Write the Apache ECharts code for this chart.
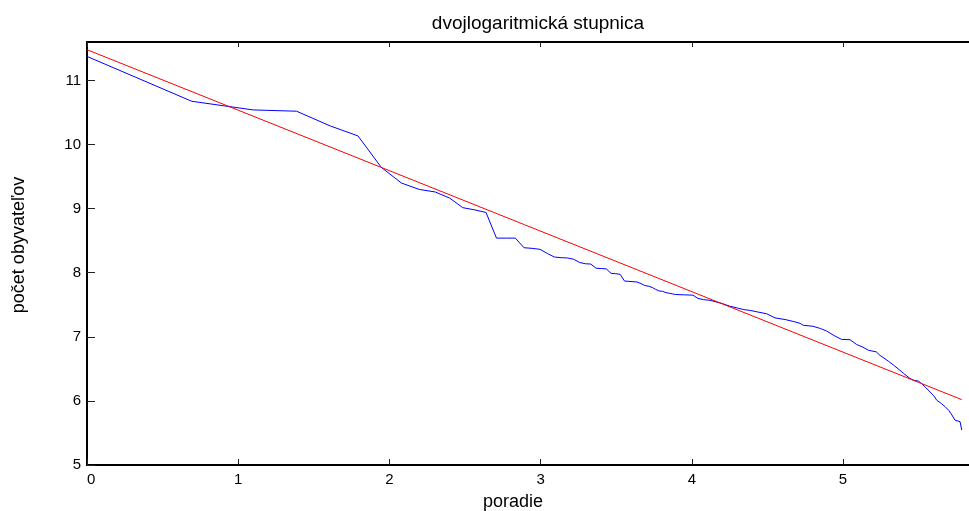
<!DOCTYPE html>
<html>
<head>
<meta charset="utf-8">
<script src="https://cdn.jsdelivr.net/npm/echarts@6/dist/echarts.min.js"></script>
<style>
html,body{margin:0;padding:0;background:#fff;}
#c{width:969px;height:511px;}
</style>
</head>
<body>
<div id="c"></div>
<script>
// Data
const titleText = 'dvojlogaritmická stupnica';
const xName = 'poradie';
const yName = 'počet obyvateľov';

// blue series: x = log(poradie), y = log(počet obyvateľov)
const blueX = [0, 0.693, 1.099, 1.386, 1.609, 1.792, 1.946, 2.079, 2.197, 2.303, 2.398, 2.485, 2.565, 2.639,
  2.708, 2.773, 2.833, 2.890, 2.944, 2.996, 3.045, 3.091, 3.135, 3.178, 3.219, 3.258, 3.296, 3.332, 3.367,
  3.401, 3.434, 3.466, 3.497, 3.526, 3.555, 3.584, 3.611, 3.638, 3.664, 3.689, 3.714, 3.738, 3.761, 3.784,
  3.807, 3.829, 3.850, 3.871, 3.892, 3.950, 4.007, 4.040, 4.078, 4.120, 4.159, 4.200, 4.248, 4.300, 4.344,
  4.390, 4.430, 4.495, 4.550, 4.616, 4.670, 4.716, 4.737, 4.800, 4.850, 4.892, 4.940, 4.990, 5.046, 5.090,
  5.130, 5.168, 5.220, 5.245, 5.300, 5.333, 5.370, 5.400, 5.443, 5.470, 5.498, 5.520, 5.542, 5.575, 5.600,
  5.620, 5.650, 5.675, 5.700, 5.720, 5.740, 5.774, 5.785];
const blueY = [11.375, 10.675, 10.54, 10.52, 10.29, 10.135, 9.645, 9.40, 9.30, 9.26, 9.165, 9.015, 8.98, 8.94,
  8.54, 8.54, 8.54, 8.39, 8.38, 8.365, 8.30, 8.245, 8.235, 8.23, 8.21, 8.16, 8.14, 8.135, 8.07,
  8.065, 8.06, 7.99, 7.985, 7.975, 7.87, 7.865, 7.86, 7.855, 7.83, 7.80, 7.79, 7.77, 7.74, 7.715,
  7.71, 7.69, 7.68, 7.67, 7.66, 7.655, 7.65, 7.60, 7.58, 7.57, 7.545, 7.52, 7.48, 7.45, 7.425,
  7.41, 7.39, 7.36, 7.295, 7.27, 7.24, 7.21, 7.18, 7.165, 7.13, 7.09, 7.02, 6.96, 6.955, 6.88,
  6.84, 6.79, 6.765, 6.71, 6.62, 6.56, 6.49, 6.43, 6.35, 6.32, 6.31, 6.27, 6.22, 6.14, 6.08,
  6.01, 5.96, 5.91, 5.85, 5.78, 5.70, 5.675, 5.545];

// red regression line endpoints
const redX = [0, 5.785];
const redY = [11.48, 6.02];

const xTicks = [0, 1, 2, 3, 4, 5];
const yTicks = [5, 6, 7, 8, 9, 10, 11];
const xMax = 5.833;
const yMax = 11.6;

const chart = echarts.init(document.getElementById('c'), null, {renderer: 'canvas'});
const zip = (a, b) => a.map((v, i) => [v, b[i]]);
const font = 'Liberation Sans, Arial, sans-serif';

const axisCommon = {
  type: 'value',
  splitLine: {show: false},
  axisLine: {show: true, onZero: false, lineStyle: {color: '#000', width: 2}},
  axisTick: {show: true, inside: true, lineStyle: {color: '#222', width: 1}},
};

chart.setOption({
  animation: false,
  backgroundColor: '#fff',
  grid: {left: 87, top: 42, right: 0, bottom: 46, containLabel: false},
  xAxis: [
    Object.assign({}, axisCommon, {
      position: 'bottom', min: xTicks[0], max: xMax, interval: 1,
      axisTick: {show: true, inside: true, length: 6, lineStyle: {color: '#222', width: 1}},
      axisLabel: {color: '#000', fontFamily: font, fontSize: 15, margin: 7, showMaxLabel: false, alignMinLabel: 'left'}
    }),
    Object.assign({}, axisCommon, {
      position: 'top', min: xTicks[0], max: xMax, interval: 1,
      axisTick: {show: true, inside: true, length: 5, lineStyle: {color: '#222', width: 1}},
      axisLabel: {show: false}
    })
  ],
  yAxis: [
    Object.assign({}, axisCommon, {
      position: 'left', min: yTicks[0], max: yMax, interval: 1,
      axisTick: {show: true, inside: true, length: 8, lineStyle: {color: '#222', width: 1}},
      axisLabel: {color: '#000', fontFamily: font, fontSize: 15, margin: 6, showMaxLabel: false}
    })
  ],
  graphic: [
    {type: 'text', x: 538, y: 24, style: {text: titleText, font: '19px ' + font, fill: '#000', textAlign: 'center', textVerticalAlign: 'middle'}},
    {type: 'text', x: 513, y: 502, style: {text: xName, font: '18px ' + font, fill: '#000', textAlign: 'center', textVerticalAlign: 'middle'}},
    {type: 'text', x: 19, y: 245, rotation: Math.PI / 2, style: {text: yName, font: '18px ' + font, fill: '#000', textAlign: 'center', textVerticalAlign: 'middle'}}
  ],
  series: [
    {type: 'line', xAxisIndex: 0, yAxisIndex: 0, data: zip(blueX, blueY), symbol: 'none',
      lineStyle: {color: '#0000ff', width: 1}, silent: true},
    {type: 'line', xAxisIndex: 0, yAxisIndex: 0, data: zip(redX, redY), symbol: 'none',
      lineStyle: {color: '#ff0000', width: 1}, silent: true}
  ]
});
</script>
</body>
</html>
